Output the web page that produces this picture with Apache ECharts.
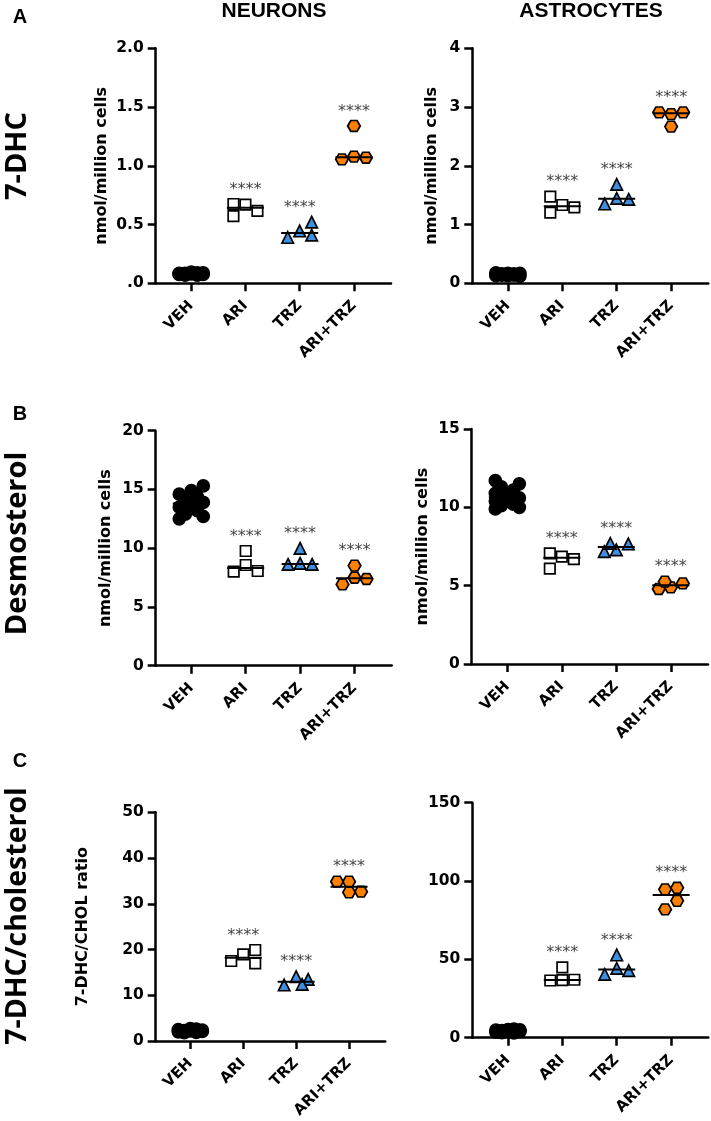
<!DOCTYPE html>
<html><head><meta charset="utf-8">
<script src="https://cdn.jsdelivr.net/npm/echarts@6/dist/echarts.min.js"></script>
<style>html,body{margin:0;padding:0;background:#fff}#c{width:711px;height:1121px}</style>
</head><body><div id="c"></div>
<script>
// ---------- DATA ----------
const categories = ['VEH', 'ARI', 'TRZ', 'ARI+TRZ'];
const columnTitles = ['NEURONS', 'ASTROCYTES'];
const rowTitles = ['7-DHC', 'Desmosterol', '7-DHC/cholesterol'];
const panelLetters = ['A', 'B', 'C'];
const yNames = ['nmol/million cells', 'nmol/million cells', 'nmol/million cells', 'nmol/million cells', '7-DHC/CHOL ratio', ''];
const stars = '****';

// 7-DHC, neurons (nmol/million cells)
const dhcNeuVEH = [0.08, 0.09, 0.075, 0.085, 0.07, 0.09, 0.08, 0.075, 0.085, 0.095, 0.07, 0.08];
const dhcNeuARI = [0.669, 0.616, 0.675, 0.572];
const dhcNeuTRZ = [0.445, 0.41, 0.39, 0.52];
const dhcNeuART = [1.078, 1.069, 1.055, 1.339];
const dhcNeuTicks = [0, 0.5, 1.0, 1.5, 2.0];
// 7-DHC, astrocytes
const dhcAstVEH = [0.15, 0.17, 0.13, 0.16, 0.14, 0.18, 0.12, 0.15, 0.16, 0.14, 0.17, 0.13];
const dhcAstARI = [1.333, 1.294, 1.475, 1.203];
const dhcAstTRZ = [1.447, 1.43, 1.35, 1.685];
const dhcAstART = [2.88, 2.91, 2.91, 2.667];
const dhcAstTicks = [0, 1, 2, 3, 4];
// Desmosterol, neurons
const desNeuVEH = [13.7, 13.9, 13.5, 14.1, 13.2, 14.4, 12.9, 14.6, 12.7, 14.9, 12.5, 15.3];
const desNeuARI = [8.57, 8.06, 8.0, 9.76];
const desNeuTRZ = [8.71, 8.62, 8.62, 9.99];
const desNeuART = [7.49, 7.38, 6.92, 8.52];
const desNeuTicks = [0, 5, 10, 15, 20];
// Desmosterol, astrocytes
const desAstVEH = [10.7, 10.6, 10.9, 10.4, 11.1, 10.2, 11.3, 10.1, 11.5, 10.0, 11.7, 9.9];
const desAstARI = [6.85, 6.70, 7.06, 6.09];
const desAstTRZ = [7.28, 7.66, 7.17, 7.70];
const desAstART = [4.89, 5.15, 4.79, 5.26];
const desAstTicks = [0, 5, 10, 15];
// 7-DHC/cholesterol ratio, neurons
const ratNeuVEH = [2.2, 2.4, 2.0, 2.3, 2.6, 1.9, 2.5, 2.1, 2.7, 2.2, 1.8, 2.4];
const ratNeuARI = [18.95, 19.9, 17.49, 16.98];
const ratNeuTRZ = [14.07, 13.48, 12.24, 12.39];
const ratNeuART = [34.84, 32.65, 34.84, 32.5];
const ratNeuTicks = [0, 10, 20, 30, 40, 50];
// 7-DHC/cholesterol ratio, astrocytes
const ratAstVEH = [4.0, 5.0, 3.5, 4.5, 3.0, 5.5, 4.2, 3.8, 4.8, 3.2, 5.2, 4.4];
const ratAstARI = [36.8, 37.0, 36.5, 44.9];
const ratAstTRZ = [44.3, 42.8, 40.4, 52.8];
const ratAstART = [94.7, 95.7, 81.9, 87.4];
const ratAstTicks = [0, 50, 100, 150];

// ---------- LAYOUT / STYLE ----------
const xMin = -0.654, xMax = 3.683;
const AX = '#000';
const HEX = 'path://M0,5 L2.887,0 L8.660,0 L11.547,5 L8.660,10 L2.887,10 Z';
const groupStyle = [
  { symbol: 'circle', size: 12, h: 12, fill: '#000' },
  { symbol: 'rect', size: 10.5, h: 12, fill: '#fff' },
  { symbol: 'triangle', size: 11.5, h: 11, fill: '#3F8FE0' },
  { symbol: HEX, size: [12.5, 10.8], h: 10.4, fill: '#FF8000' }
];
const panels = [
  { groups: [dhcNeuVEH, dhcNeuARI, dhcNeuTRZ, dhcNeuART], ticks: dhcNeuTicks, grid: { left: 155.7, top: 48.3, width: 235.3, height: 235 }, gap: 46, fmt: v => v === 0 ? '.0' : v.toFixed(1) },
  { groups: [dhcAstVEH, dhcAstARI, dhcAstTRZ, dhcAstART], ticks: dhcAstTicks, grid: { left: 472.3, top: 48.3, width: 236, height: 235 }, gap: 32, fmt: v => String(v) },
  { groups: [desNeuVEH, desNeuARI, desNeuTRZ, desNeuART], ticks: desNeuTicks, grid: { left: 155.7, top: 430.7, width: 236, height: 235 }, gap: 42, fmt: v => String(v) },
  { groups: [desAstVEH, desAstARI, desAstTRZ, desAstART], ticks: desAstTicks, grid: { left: 471.7, top: 429, width: 236.3, height: 235 }, gap: 41, fmt: v => String(v) },
  { groups: [ratNeuVEH, ratNeuARI, ratNeuTRZ, ratNeuART], ticks: ratNeuTicks, grid: { left: 155.7, top: 812.3, width: 229.5, height: 228.7 }, gap: 65, fmt: v => String(v) },
  { groups: [ratAstVEH, ratAstARI, ratAstTRZ, ratAstART], ticks: ratAstTicks, grid: { left: 472.3, top: 802.7, width: 236, height: 235 }, gap: 40, fmt: v => String(v) }
];

// beeswarm-style horizontal spreading of overlapping points (pixel offsets)
function swarm(vals, pxY, symH) {
  const W = 12, placed = [], out = [];
  for (const v of vals) {
    const y = v * pxY;
    let col = null;
    for (const c of [0, 1, -1]) {
      if (placed.every(p => Math.abs(p.x - c * W) >= W || Math.abs(p.y - y) >= symH)) { col = c; break; }
    }
    if (col === null) {
      let best = -1;
      for (const c of [-1, -0.5, 0, 0.5, 1]) {
        const d = Math.min(...placed.map(p => Math.hypot(p.x - c * W, p.y - y)));
        if (d > best + 1e-9) { best = d; col = c; }
      }
    }
    placed.push({ x: col * W, y });
    out.push(col * W);
  }
  const sh = (Math.min(...out) + Math.max(...out)) / 2;
  return out.map(o => o - sh);
}
function median(a) {
  const s = a.slice().sort((x, y) => x - y), n = s.length;
  return n % 2 ? s[(n - 1) / 2] : (s[n / 2 - 1] + s[n / 2]) / 2;
}

const grids = [], xAxes = [], yAxes = [], series = [];
panels.forEach((p, i) => {
  const yMin = p.ticks[0], yMax = p.ticks[p.ticks.length - 1];
  const pxY = p.grid.height / (yMax - yMin);
  const pxX = p.grid.width / (xMax - xMin);
  grids.push(p.grid);
  xAxes.push({
    gridIndex: i, type: 'value', min: xMin, max: xMax,
    axisLine: { show: true, onZero: false, lineStyle: { color: AX, width: 2.5 } },
    axisTick: { show: true, customValues: [0, 1, 2, 3], length: 8, lineStyle: { color: AX, width: 2.5 } },
    axisLabel: { show: true, customValues: [0, 1, 2, 3], formatter: v => categories[Math.round(v)], rotate: 45, margin: 20,
      color: '#000', fontFamily: 'DejaVu Sans', fontWeight: 'bold', fontSize: 15 },
    splitLine: { show: false }
  });
  yAxes.push({
    gridIndex: i, type: 'value', min: yMin, max: yMax, interval: p.ticks[1] - p.ticks[0],
    name: yNames[i], nameLocation: 'middle', nameRotate: 90, nameGap: p.gap,
    nameTextStyle: { color: '#000', fontFamily: 'DejaVu Sans', fontWeight: 'bold', fontSize: 16 },
    axisLine: { show: true, onZero: false, lineStyle: { color: AX, width: 2.5 } },
    axisTick: { show: true, length: 8, lineStyle: { color: AX, width: 2.5 } },
    axisLabel: { formatter: p.fmt, margin: 12, color: '#000', fontFamily: 'DejaVu Sans', fontWeight: 'bold', fontSize: 15.5 },
    splitLine: { show: false }
  });
  p.groups.forEach((vals, g) => {
    const st = groupStyle[g];
    const offs = swarm(vals, pxY, st.h);
    series.push({
      type: 'scatter', xAxisIndex: i, yAxisIndex: i, silent: true, z: 3,
      symbol: st.symbol, symbolSize: st.size,
      itemStyle: { color: st.fill, borderColor: '#000', borderWidth: 1.7, opacity: 1 },
      data: vals.map((v, k) => [g + offs[k] / pxX, v])
    });
  });
  const hw = 18.5 / pxX;
  series.push({
    type: 'custom', xAxisIndex: i, yAxisIndex: i, silent: true, z: 5,
    data: p.groups.map((vals, g) => [g, median(vals)]),
    renderItem: (params, api) => {
      const c = api.value(0), m = api.value(1);
      const a = api.coord([c - hw, m]), b = api.coord([c + hw, m]);
      return { type: 'line', shape: { x1: a[0], y1: a[1], x2: b[0], y2: b[1] }, style: { stroke: '#000', lineWidth: 2 } };
    }
  });
  series.push({
    type: 'scatter', xAxisIndex: i, yAxisIndex: i, silent: true, z: 6,
    symbol: 'circle', symbolSize: 1, itemStyle: { color: 'rgba(0,0,0,0)' },
    data: p.groups.slice(1).map((vals, g) => [g + 1, Math.max(...vals)]),
    label: { show: true, position: 'top', distance: 6, formatter: () => stars,
      color: '#111', fontFamily: 'DejaVu Sans', fontSize: 16 }
  });
});

const txt = (text, x, y, font, rot) => ({
  type: 'text', x, y, rotation: rot || 0, silent: true,
  style: { text, font, fill: '#000', align: 'center', verticalAlign: 'middle' }
});
const graphics = [
  txt(columnTitles[0], 274, 11.5, 'bold 21px "Liberation Sans"'),
  txt(columnTitles[1], 591, 11.5, 'bold 21px "Liberation Sans"'),
  txt(panelLetters[0], 20, 17.5, 'bold 20px "Liberation Sans"'),
  txt(panelLetters[1], 20, 414, 'bold 20px "Liberation Sans"'),
  txt(panelLetters[2], 20, 761, 'bold 20px "Liberation Sans"'),
  txt(rowTitles[0], 18, 156, 'bold 29px "Open Sans"', Math.PI / 2),
  txt(rowTitles[1], 18, 543.5, 'bold 29px "Open Sans"', Math.PI / 2),
  txt(rowTitles[2], 18, 916, 'bold 28.5px "Open Sans"', Math.PI / 2)
];

const chart = echarts.init(document.getElementById('c'), null, { renderer: 'canvas' });
chart.setOption({
  animation: false,
  backgroundColor: '#fff',
  grid: grids, xAxis: xAxes, yAxis: yAxes, series, graphic: graphics
});
</script></body></html>
